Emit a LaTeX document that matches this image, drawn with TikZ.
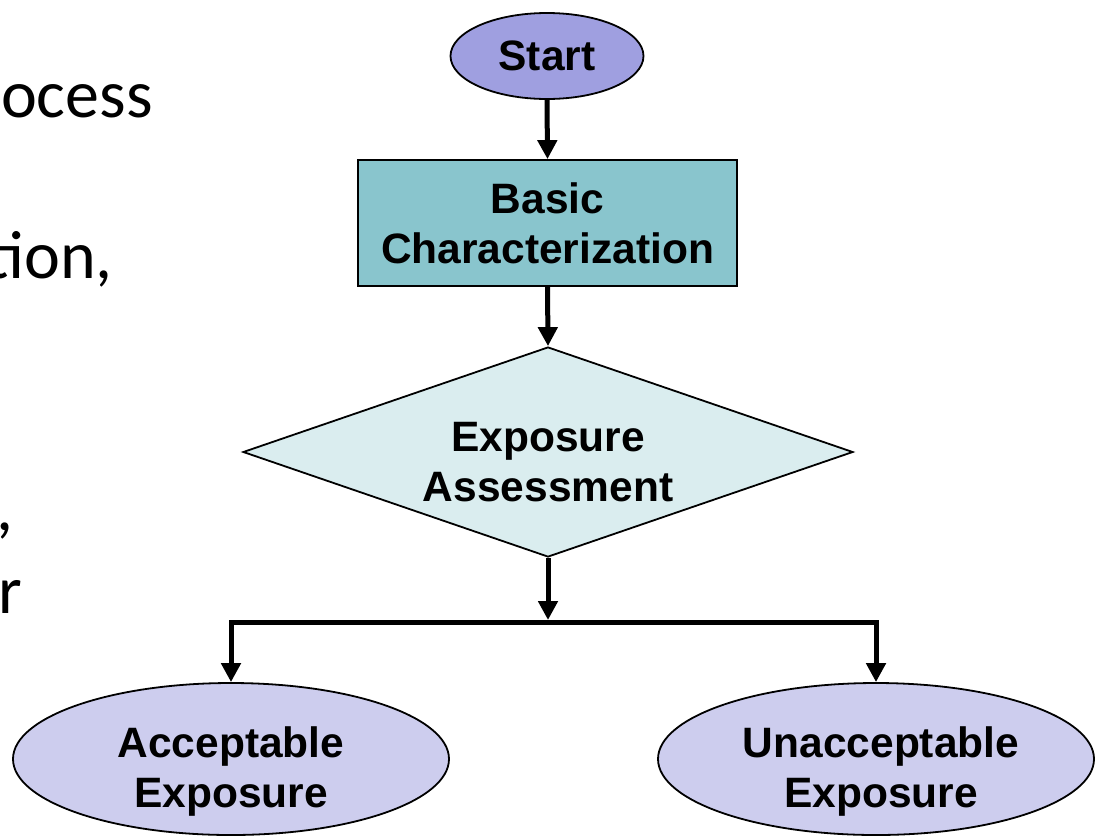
\documentclass[tikz,border=0pt]{standalone}
\usepackage{fontspec}
\usetikzlibrary{shapes.geometric,arrows.meta}
\newfontfamily\diagfont{Liberation Sans}
\newfontfamily\slidefont{Carlito}
\definecolor{startfill}{HTML}{9F9FE0}
\definecolor{boxfill}{HTML}{89C5CD}
\definecolor{decfill}{HTML}{DAEDEF}
\definecolor{endfill}{HTML}{CDCDEE}
\tikzset{
  x=1pt, y=-1pt,
  txt/.style={font=\diagfont\bfseries\fontsize{42.5}{50}\selectfont, align=center, inner sep=0pt},
  lbl/.style={txt, draw=black, line width=1.8pt},
  startnode/.style={lbl, ellipse, fill=startfill, minimum width=193pt, minimum height=86pt},
  boxnode/.style={lbl, rectangle, fill=boxfill, minimum width=379pt, minimum height=126pt},
  decnode/.style={lbl, diamond, fill=decfill, minimum width=610pt, minimum height=210pt, aspect=2.9},
  endnode/.style={lbl, ellipse, fill=endfill, minimum width=436pt, minimum height=152pt},
  conn/.style={line width=5pt, -{Triangle[length=19pt,width=19pt]}},
  slidetxt/.style={font=\slidefont\fontsize{68}{80}\selectfont, inner sep=0pt, anchor=base east}
}
\begin{document}
\begin{tikzpicture}
\useasboundingbox (0,0) rectangle (1099,836);
% slide text fragments at left
\node[slidetxt] (t1) at (153,117) {ocess};
\node[slidetxt] (t2) at (113,278) {tion,};
\node[slidetxt] (t3) at (14,530) {,};
\node[slidetxt] (t4) at (22,613) {r};
% flowchart shapes
\node[startnode] (start) at (547,56) {Start};
\node[boxnode] (basic) at (547.5,223) {Basic\\Characterization};
\node[decnode] (assess) at (548,452) {};
\node[endnode] (acc) at (231,759) {};
\node[endnode] (unacc) at (876,759) {};
% texts of the shapes
\node[txt, yshift=-10pt] (assesstext) at (assess.center) {Exposure\\Assessment};
\node[txt, yshift=-12pt] (acctext) at (acc.center) {Acceptable\\Exposure};
\node[txt, yshift=-12pt, xshift=5pt] (unacctext) at (unacc.center) {Unacceptable\\Exposure};
% connectors
\coordinate (jn) at (548,622);
\draw[conn] (start.south) -- (basic.north);
\draw[conn] (basic.south) -- (assess.north);
\draw[conn, shorten >=2pt] (assess.south) -- (jn);
\draw[conn] (jn) -| (acc.north);
\draw[conn] (jn) -| (unacc.north);
\end{tikzpicture}
\end{document}
